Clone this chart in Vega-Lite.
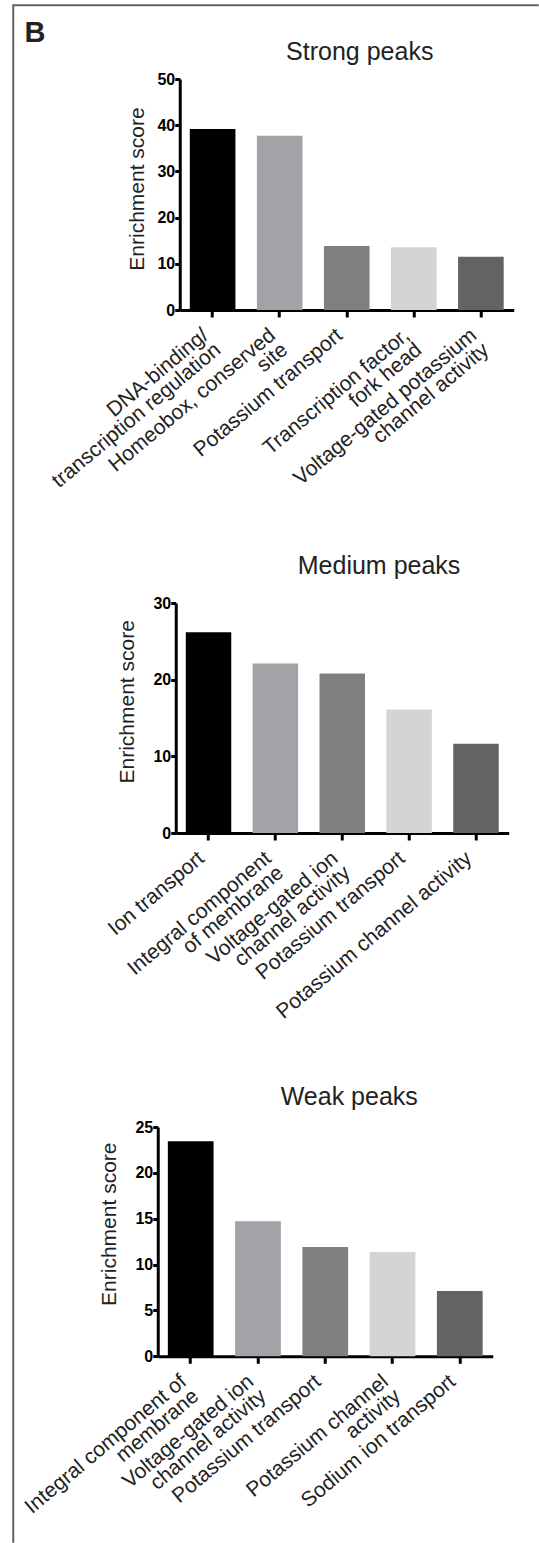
{
  "$schema": "https://vega.github.io/schema/vega-lite/v6.json",
  "padding": {"left": 12, "top": 4, "right": 0, "bottom": 0},
  "autosize": {"type": "pad"},
  "background": "white",
  "datasets": {
    "strong": [
      {"term": "DNA-binding/\ntranscription regulation", "score": 39.2},
      {"term": "Homeobox, conserved\nsite", "score": 37.7},
      {"term": "Potassium transport", "score": 13.85},
      {"term": "Transcription factor,\nfork head", "score": 13.6},
      {"term": "Voltage-gated potassium\nchannel activity", "score": 11.5}
    ],
    "medium": [
      {"term": "Ion transport", "score": 26.2},
      {"term": "Integral component\nof membrane", "score": 22.1},
      {"term": "Voltage-gated ion\nchannel activity", "score": 20.8},
      {"term": "Potassium transport", "score": 16.1},
      {"term": "Potassium channel activity", "score": 11.65}
    ],
    "weak": [
      {"term": "Integral component of\nmembrane", "score": 23.45},
      {"term": "Voltage-gated ion\nchannel activity", "score": 14.72},
      {"term": "Potassium transport", "score": 11.92},
      {"term": "Potassium channel\nactivity", "score": 11.37},
      {"term": "Sodium ion transport", "score": 7.12}
    ]
  },
  "spacing": 0,
  "bounds": "flush",
  "resolve": {"scale": {"color": "independent", "x": "independent", "y": "independent"}},
  "vconcat": [
    {
      "width": 525,
      "height": 0.5,
      "data": {"values": []},
      "mark": "point",
      "view": {"stroke": "#636363", "strokeWidth": 1.5},
      "title": {"text": "B", "orient": "bottom", "anchor": "start", "frame": "group", "dx": 11.5, "offset": 36.5, "baseline": "alphabetic", "fontSize": 29, "fontWeight": "bold", "color": "#222222"}
    },
    {
      "spacing": 143.75,
      "bounds": "flush",
      "resolve": {"scale": {"color": "independent", "x": "independent", "y": "independent"}},
      "hconcat": [
        {
          "width": 0.5,
          "height": 1536,
          "data": {"values": []},
          "mark": "point",
          "view": {"stroke": "#636363", "strokeWidth": 1.5}
        },
        {
          "spacing": 0,
          "bounds": "flush",
          "resolve": {"scale": {"color": "independent", "x": "independent", "y": "independent"}},
          "vconcat": [
            {"width": 1, "height": 72.75, "data": {"values": []}, "mark": "point"},
            {
              "width": 356,
              "height": 231,
              "data": {"name": "strong"},
              "title": {"text": "Strong peaks", "frame": "group", "anchor": "middle", "dx": 24, "dy": 24, "offset": 10, "baseline": "alphabetic", "fontSize": 25, "fontWeight": "normal", "color": "#222222"},
              "mark": {"type": "bar"},
              "encoding": {
                "x": {"field": "term", "type": "nominal", "sort": null,
                  "scale": {"range": [22, 356], "paddingInner": 0.32, "paddingOuter": 0.15},
                  "axis": {"title": null, "labelExpr": "split(datum.value, '\\n')"}},
                "y": {"field": "score", "type": "quantitative",
                  "scale": {"domain": [0, 50], "nice": false},
                  "axis": {"values": [0, 10, 20, 30, 40, 50], "offset": -22, "title": "Enrichment score", "titleX": -42, "titleY": 109.5}},
                "color": {"field": "term", "type": "nominal", "sort": null, "legend": null,
                  "scale": {"range": ["#000000", "#a3a3a7", "#808080", "#d4d4d4", "#636363"]}}
              }
            },
            {"width": 1, "height": 292.7, "data": {"values": []}, "mark": "point"},
            {
              "width": 351,
              "height": 230,
              "data": {"name": "medium"},
              "title": {"text": "Medium peaks", "frame": "group", "anchor": "middle", "dx": 45.8, "dy": 22, "offset": 17.7, "baseline": "alphabetic", "fontSize": 25, "fontWeight": "normal", "color": "#222222"},
              "mark": {"type": "bar"},
              "encoding": {
                "x": {"field": "term", "type": "nominal", "sort": null,
                  "scale": {"range": [18, 351], "paddingInner": 0.32, "paddingOuter": 0.15},
                  "axis": {"title": null, "labelExpr": "split(datum.value, '\\n')"}},
                "y": {"field": "score", "type": "quantitative",
                  "scale": {"domain": [0, 30], "nice": false},
                  "axis": {"values": [0, 10, 20, 30], "offset": -18, "title": "Enrichment score", "titleX": -48, "titleY": 98.3}},
                "color": {"field": "term", "type": "nominal", "sort": null, "legend": null,
                  "scale": {"range": ["#000000", "#a3a3a7", "#808080", "#d4d4d4", "#636363"]}}
              }
            },
            {"width": 1, "height": 293.3, "data": {"values": []}, "mark": "point"},
            {
              "width": 335,
              "height": 229.3,
              "data": {"name": "weak"},
              "title": {"text": "Weak peaks", "frame": "group", "anchor": "middle", "dx": 24, "dy": 24, "offset": 12.7, "baseline": "alphabetic", "fontSize": 25, "fontWeight": "normal", "color": "#222222"},
              "mark": {"type": "bar"},
              "encoding": {
                "x": {"field": "term", "type": "nominal", "sort": null,
                  "scale": {"paddingInner": 0.32, "paddingOuter": 0.15},
                  "axis": {"title": null, "labelExpr": "split(datum.value, '\\n')"}},
                "y": {"field": "score", "type": "quantitative",
                  "scale": {"domain": [0, 25], "nice": false},
                  "axis": {"values": [0, 5, 10, 15, 20, 25], "title": "Enrichment score", "titleX": -48, "titleY": 96.7}},
                "color": {"field": "term", "type": "nominal", "sort": null, "legend": null,
                  "scale": {"range": ["#000000", "#a3a3a7", "#808080", "#d4d4d4", "#636363"]}}
              }
            }
          ]
        }
      ]
    }
  ],
  "config": {
    "font": "Liberation Sans",
    "view": {"stroke": null},
    "axis": {
      "domainColor": "#000000",
      "domainWidth": 3,
      "tickColor": "#000000",
      "tickWidth": 3,
      "grid": false,
      "zindex": 1
    },
    "axisX": {
      "tickSize": 7,
      "labelAngle": -40,
      "labelAlign": "right",
      "labelBaseline": "alphabetic",
      "labelFontSize": 21,
      "labelColor": "#222222",
      "labelPadding": 20,
      "labelOffset": -3,
      "labelLineHeight": 19,
      "labelLimit": 0,
      "labelOverlap": false,
      "labelBound": false,
      "labelFlush": false
    },
    "axisY": {
      "tickSize": 5,
      "labelPadding": 0,
      "labelFontSize": 16,
      "labelFontWeight": "bold",
      "labelColor": "#000000",
      "titleFontSize": 21,
      "titleFontWeight": "normal",
      "titleColor": "#222222",
      "titleBaseline": "middle",
      "titleAngle": -90
    }
  }
}
